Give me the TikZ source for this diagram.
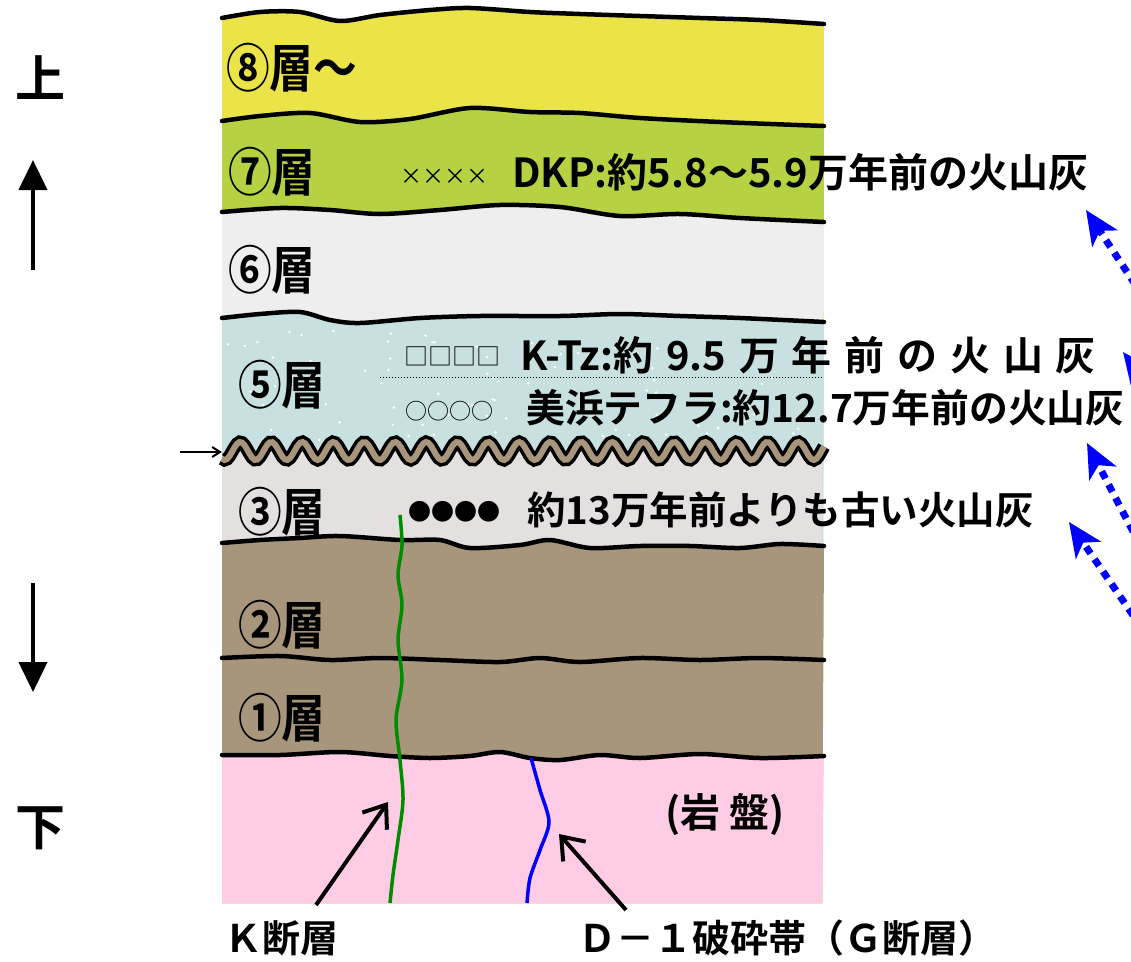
\documentclass[tikz,border=0pt]{standalone}
\usepackage{fontspec}
\setmainfont{Noto Sans CJK JP}[BoldFont={Noto Sans CJK JP Bold}]
\newfontfamily\narrowfont{Noto Sans CJK JP Bold}[FakeStretch=0.84]
\usetikzlibrary{arrows.meta}

\definecolor{yellowlayer}{RGB}{235,228,72}
\definecolor{greenlayer}{RGB}{182,210,66}
\definecolor{whitelayer}{RGB}{238,238,238}
\definecolor{bluelayer}{RGB}{200,224,224}
\definecolor{greylayer}{RGB}{228,224,224}
\definecolor{brownlayer}{RGB}{168,150,124}
\definecolor{pinkrock}{RGB}{255,204,230}
\definecolor{faultgreen}{RGB}{0,140,0}

\tikzset{
  layerlabel/.style={font=\narrowfont\fontsize{52}{56}\selectfont, anchor=west, inner sep=0pt},
  note/.style={font=\bfseries\fontsize{40}{44}\selectfont, anchor=west, inner sep=0pt},
  tephra/.style={font=\fontsize{22}{24}\selectfont, anchor=west, inner sep=0pt},
  boundary/.style={line width=4.5pt, line join=round, line cap=round},
  fault/.style={line width=3.5pt, line join=round},
  pointer/.style={line width=4pt, -{Straight Barb[length=20pt, width=30pt, line width=4pt]}},
  updown/.style={line width=4pt, -{Triangle[length=30pt, width=28pt]}},
  ashlink/.style={blue, line width=7pt, dash pattern=on 8pt off 7pt,
    -{Stealth[length=34pt, width=30pt, inset=9pt]}},
}

% layer boundaries, left to right
\def\lineE{(222,18) (260,12) (300,12) (340,21) (380,15) (430,10) (470,8) (530,12) (580,14) (640,16) (700,18) (760,20) (824,24)}
\def\lineD{(222,121) (260,116) (310,113) (360,122) (410,119) (470,108) (530,112) (580,113) (640,118) (720,122) (824,126)}
\def\lineC{(222,212) (280,208) (330,210) (380,214) (440,210) (500,205) (560,207) (620,216) (680,214) (740,218) (824,222)}
\def\lineB{(222,318) (260,314) (300,312) (330,320) (360,323) (420,318) (480,316) (560,316) (620,314) (680,316) (740,318) (824,322)}
\def\lineA{(222,543) (260,540) (300,538) (340,536) (400,540) (440,540) (470,548) (520,545) (550,540) (590,548) (640,546) (690,546) (740,548) (780,544) (824,546)}
\def\lineZ{(222,658) (280,656) (330,660) (380,658) (440,660) (500,662) (540,658) (580,662) (640,658) (700,660) (760,658) (824,660)}
\def\lineR{(222,755) (280,755) (340,752) (390,756) (430,758) (470,756) (500,752) (530,758) (560,760) (600,755) (640,758) (700,754) (760,758) (824,756)}

\begin{document}
\begin{tikzpicture}[x=1pt, y=-1pt]
\useasboundingbox (0,0) rectangle (1131,961);
\clip (0,0) rectangle (1131,961);

% layers, from the top down
\fill[yellowlayer] plot[smooth] coordinates {\lineE} -- (822,903) -- (222,903) -- cycle;
\fill[greenlayer]  plot[smooth] coordinates {\lineD} -- (822,903) -- (222,903) -- cycle;
\fill[whitelayer]  plot[smooth] coordinates {\lineC} -- (822,903) -- (222,903) -- cycle;
\fill[bluelayer]   plot[smooth] coordinates {\lineB} -- (822,903) -- (222,903) -- cycle;
\pgfmathsetseed{7}
\foreach \i in {1,...,90}
  \fill[white] ({228+590*rnd},{330+110*rnd}) circle (1.4);
\fill[greylayer] plot[domain=222:822, samples=240] (\x,{451+9*sin(\x/31*360)})
  -- (822,903) -- (222,903) -- cycle;
\fill[brownlayer] plot[smooth] coordinates {\lineA} -- (822,903) -- (222,903) -- cycle;
\fill[pinkrock]   plot[smooth] coordinates {\lineR} -- (822,903) -- (222,903) -- cycle;

\foreach \b in {\lineE,\lineD,\lineC,\lineB,\lineA,\lineZ,\lineR}
  \draw[boundary] plot[smooth] coordinates {\b};

% unconformity
\draw[line width=13pt] plot[domain=222:824, samples=240] (\x,{451+9*sin(\x/31*360)});
\draw[brownlayer, line width=6pt] plot[domain=222:824, samples=240] (\x,{451+9*sin(\x/31*360)});
\draw[line width=1pt, dotted] (380,377) -- (822,377);

% faults
\draw[fault, faultgreen] plot[smooth] coordinates {(400,515) (402,545) (398,575) (402,605) (398,640) (402,680) (396,720) (400,760) (403,800) (398,840) (393,875) (390,903)};
\draw[fault, blue] plot[smooth] coordinates {(531,758) (540,790) (549,822) (540,850) (530,878) (527,903)};

% layer names
\node[layerlabel] (l8) at (226,68)  {⑧層～};
\node[layerlabel] (l7) at (228,172) {⑦層};
\node[layerlabel] (l6) at (228,270) {⑥層};
\node[layerlabel] (l5) at (238,385) {⑤層};
\node[layerlabel] (l3) at (238,512) {③層};
\node[layerlabel] (l2) at (238,625) {②層};
\node[layerlabel] (l1) at (238,718) {①層};
\node[note] (rock) at (665,815) {(岩 盤)};

% tephra
\node[tephra] (dkpmark) at (400,177) {××××};
\node[note] (dkp) at (512,172) {DKP:約5.8～5.9万年前の火山灰};
\node[tephra, font=\fontsize{24}{26}\selectfont] (ktzmark) at (404,356) {□□□□};
\node[note] (ktz) at (520,355) {\spaceskip=0.32em\relax K-Tz:約 9.5 万 年 前 の 火 山 灰};
\node[tephra] (mihamamark) at (405,411) {○○○○};
\node[note, font=\bfseries\fontsize{38.8}{42}\selectfont] (mihama) at (526,408) {美浜テフラ:約12.7万年前の火山灰};
\node[tephra, font=\fontsize{23}{24}\selectfont] (oldmark) at (408,512) {●●●●};
\node[note, font=\bfseries\fontsize{38.5}{42}\selectfont] (old) at (527,510) {約13万年前よりも古い火山灰};

% up / down
\node[font=\bfseries\fontsize{50}{54}\selectfont, inner sep=0pt] (up) at (40,78) {上};
\node[font=\bfseries\fontsize{50}{54}\selectfont, inner sep=0pt] (down) at (40,828) {下};
\coordinate (upfoot) at (33,270);
\coordinate (uptip) at (33,160);
\coordinate (downfoot) at (33,583);
\coordinate (downtip) at (33,692);
\draw[updown] (upfoot) -- (uptip);
\draw[updown] (downfoot) -- (downtip);
\coordinate (uncfoot) at (180,452);
\coordinate (unctip) at (222,452);
\draw[line width=2pt, -{Straight Barb[length=8pt, width=10pt, line width=2pt]}] (uncfoot) -- (unctip);

% fault names
\node[font=\bfseries\fontsize{38}{42}\selectfont, anchor=west, inner sep=0pt] (kname) at (224,938) {Ｋ断層};
\node[font=\bfseries\fontsize{38}{42}\selectfont, anchor=west, inner sep=0pt] (dname) at (578,938) {Ｄ－１破砕帯（Ｇ断層）};
\coordinate (ktail) at (316,905);
\coordinate (khit) at (388,802);
\coordinate (dtail) at (626,910);
\coordinate (dhit) at (559,834);
\draw[pointer] (ktail) -- (khit);
\draw[pointer] (dtail) -- (dhit);

% links to the right
\coordinate (dkptail) at (1160,322);
\coordinate (dkptip) at (1086,210);
\coordinate (ktztail) at (1190,440);
\coordinate (ktztip) at (1123,352);
\coordinate (mihamatail) at (1140,545);
\coordinate (mihamatip) at (1087,443);
\coordinate (oldtail) at (1150,640);
\coordinate (oldtip) at (1069,522);
\draw[ashlink] (dkptail) -- (dkptip);
\draw[ashlink] (ktztail) -- (ktztip);
\draw[ashlink] (mihamatail) -- (mihamatip);
\draw[ashlink] (oldtail) -- (oldtip);
\end{tikzpicture}
\end{document}
